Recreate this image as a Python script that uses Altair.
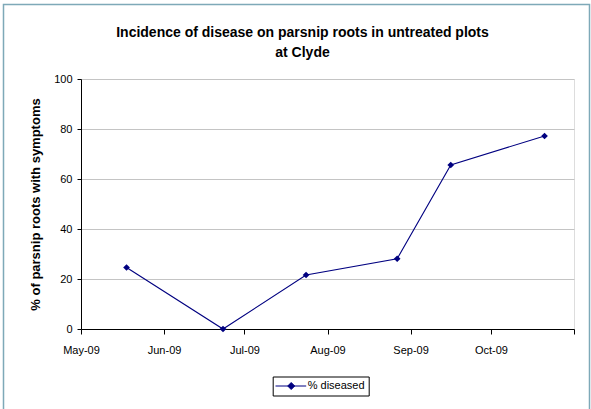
import altair as alt
import pandas as pd

# Sampling dates and incidence of disease (% of roots with symptoms)
dates = ["2009-05-18", "2009-06-23", "2009-07-24", "2009-08-27", "2009-09-16", "2009-10-21"]
diseased = [24.6, 0.0, 21.6, 28.1, 65.6, 77.2]
series_name = "% diseased"

y_ticks = [0, 20, 40, 60, 80, 100]
month_ticks = [alt.DateTime(year=2009, month=m, date=1, utc=True) for m in range(5, 12)]

title_lines = ["Incidence of disease on parsnip roots in untreated plots", "at Clyde"]
y_title = "% of parsnip roots with symptoms"

df = pd.DataFrame({"date": dates, "pct": diseased, "series": [series_name] * len(dates)})

FONT = "Liberation Sans"
NAVY = "#000080"

x_enc = alt.X(
    "date:T",
    scale=alt.Scale(type="utc", domain=[alt.DateTime(year=2009, month=5, date=1, utc=True),
                                        alt.DateTime(year=2009, month=11, date=1, utc=True)]),
    axis=alt.Axis(
        title=None,
        values=month_ticks,
        labelExpr="utcmonth(datum.value) == 10 ? '' : utcFormat(datum.value, '%b-%y')",
        grid=False,
        domainColor="black",
        tickColor="black",
        tickSize=5,
        labelPadding=10,
        labelFontSize=11,
        labelFont=FONT,
        labelColor="black",
        labelFlush=False,
        labelOverlap=False,
    ),
)
y_enc = alt.Y(
    "pct:Q",
    scale=alt.Scale(domain=[0, 100], nice=False),
    axis=alt.Axis(
        title=y_title,
        values=y_ticks,
        grid=True,
        gridColor="#c4c4c4",
        domainColor="black",
        tickColor="black",
        tickSize=4,
        labelPadding=5,
        labelFontSize=11,
        labelFont=FONT,
        labelColor="black",
        titleFont=FONT,
        titleFontSize=13,
        titleFontWeight="bold",
        titleColor="black",
        titlePadding=11,
    ),
)

line = alt.Chart(df).mark_line(color=NAVY, strokeWidth=1.1).encode(x=x_enc, y=y_enc)

points = alt.Chart(df).mark_point(shape="diamond", filled=True, size=45, opacity=1).encode(
    x=x_enc,
    y=y_enc,
    color=alt.Color(
        "series:N",
        scale=alt.Scale(range=[NAVY]),
        legend=alt.Legend(
            title=None,
            orient="none",
            legendX=191.7,
            legendY=297.5,
            symbolType="M-1.34,0H4.8M1.8,-0.7L2.5,0L1.8,0.7L1.1,0Z",
            symbolSize=100,
            symbolStrokeWidth=1,
            symbolStrokeColor=NAVY,
            symbolFillColor=NAVY,
            labelOffset=20,
            labelFontSize=11,
            labelFont=FONT,
            labelColor="black",
            strokeColor="black",
            padding=4,
            fillColor="white",
        ),
    ),
)

# Outer frame around the whole figure
frame = alt.Chart(pd.DataFrame({"f": [0]})).mark_rect(
    fill=None, stroke="#7ea9b8", strokeWidth=1.5
).encode(
    x=alt.value(-77.5), x2=alt.value(508.5), y=alt.value(-74.5), y2=alt.value(340)
)

chart = alt.layer(frame, line, points).properties(
    width=493,
    height=250,
    title=alt.Title(
        text=title_lines,
        font=FONT,
        fontSize=14,
        fontWeight="bold",
        color="black",
        anchor="middle",
        baseline="alphabetic",
        lineHeight=19.5,
        offset=-67,
        dx=-25,
    ),
    autosize=alt.AutoSizeParams(type="none"),
    padding={"left": 81, "top": 79, "right": 17, "bottom": 80},
).configure_view(stroke="#b0b0b0", strokeWidth=1).configure(background="white")

chart.save("out.html", embed_options={"renderer": "svg", "actions": False})
